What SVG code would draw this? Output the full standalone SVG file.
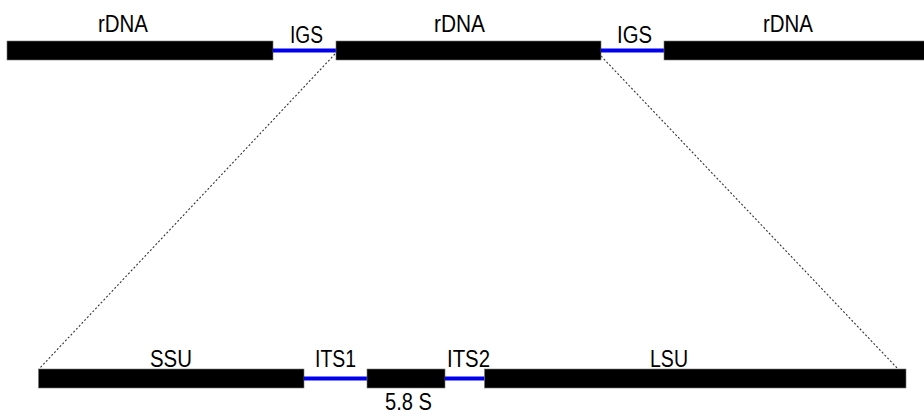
<svg xmlns="http://www.w3.org/2000/svg" width="924" height="416" viewBox="0 0 924 416">
  <style>
    .seg { fill: #000; stroke: #777; stroke-width: 0.6; }
    .spacer { stroke: #0000ee; stroke-width: 4; fill: none; }
    .lbl { font-family: "Liberation Sans", Arial, sans-serif; font-size: 23px; fill: #000; }
    .zoom { stroke: #333; stroke-width: 1.1; stroke-dasharray: 2 2; fill: none; }
  </style>
  <rect width="924" height="416" fill="#fff"/>

  <!-- zoom-out guides from the central repeat to the expanded unit -->
  <g id="connectors">
    <line class="zoom" x1="335" y1="54" x2="39" y2="369"/>
    <line class="zoom" x1="601" y1="56" x2="898" y2="369"/>
  </g>

  <!-- tandem array: rDNA repeats separated by intergenic spacers -->
  <g id="rdna1">
    <rect class="seg" x="7" y="41" width="266" height="19"/>
    <text class="lbl" x="98" y="32" textLength="50" lengthAdjust="spacingAndGlyphs">rDNA</text>
  </g>
  <g id="igs1">
    <line class="spacer" x1="273" y1="50.5" x2="336" y2="50.5"/>
    <text class="lbl" x="290" y="43" textLength="33" lengthAdjust="spacingAndGlyphs">IGS</text>
  </g>
  <g id="rdna2">
    <rect class="seg" x="336" y="41" width="265" height="19"/>
    <text class="lbl" x="434" y="32" textLength="51" lengthAdjust="spacingAndGlyphs">rDNA</text>
  </g>
  <g id="igs2">
    <line class="spacer" x1="601" y1="50.5" x2="664" y2="50.5"/>
    <text class="lbl" x="617" y="43" textLength="35" lengthAdjust="spacingAndGlyphs">IGS</text>
  </g>
  <g id="rdna3">
    <rect class="seg" x="664" y="41" width="262" height="19"/>
    <text class="lbl" x="763" y="32" textLength="50" lengthAdjust="spacingAndGlyphs">rDNA</text>
  </g>

  <!-- expanded unit: SSU - ITS1 - 5.8S - ITS2 - LSU -->
  <g id="ssu">
    <rect class="seg" x="38.5" y="369" width="265.5" height="19"/>
    <text class="lbl" x="150" y="367" textLength="42" lengthAdjust="spacingAndGlyphs">SSU</text>
  </g>
  <g id="its1">
    <line class="spacer" x1="304" y1="378.5" x2="367" y2="378.5"/>
    <text class="lbl" x="315" y="367" textLength="41" lengthAdjust="spacingAndGlyphs">ITS1</text>
  </g>
  <g id="s58">
    <rect class="seg" x="367" y="369" width="78" height="19"/>
    <text class="lbl" x="385" y="410" font-size="22" textLength="47" lengthAdjust="spacingAndGlyphs">5.8 S</text>
  </g>
  <g id="its2">
    <line class="spacer" x1="445" y1="378.5" x2="484.5" y2="378.5"/>
    <text class="lbl" x="447" y="367" textLength="43" lengthAdjust="spacingAndGlyphs">ITS2</text>
  </g>
  <g id="lsu">
    <rect class="seg" x="484.5" y="369" width="421.5" height="19"/>
    <text class="lbl" x="650" y="367" textLength="38" lengthAdjust="spacingAndGlyphs">LSU</text>
  </g>
</svg>
